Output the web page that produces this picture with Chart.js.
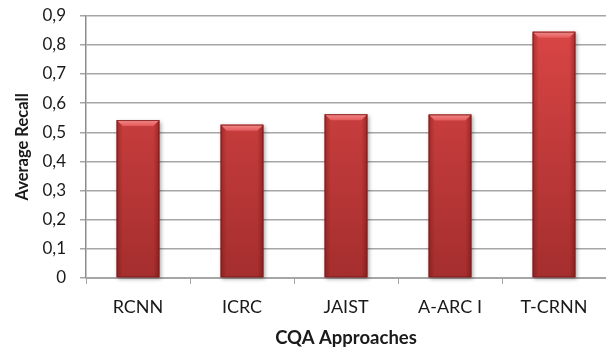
<!DOCTYPE html>
<html>
<head>
<meta charset="utf-8">
<style>
  html, body { margin: 0; padding: 0; background: #ffffff; }
  #wrap { width: 606px; height: 349px; position: relative; }
</style>
<script src="https://cdn.jsdelivr.net/npm/chart.js@4/dist/chart.umd.min.js"></script>
</head>
<body>
<div id="wrap"><canvas id="chart" width="606" height="349"></canvas></div>
<script>
// Average recall per CQA approach
const categories = ['RCNN', 'ICRC', 'JAIST', 'A-ARC I', 'T-CRNN'];
const recall = [0.542, 0.526, 0.562, 0.561, 0.845];
const yTicks = [0, 0.1, 0.2, 0.3, 0.4, 0.5, 0.6, 0.7, 0.8, 0.9];

const FONT = 'Lato, "Open Sans", sans-serif';

// Vertical red gradient for the bar bodies
function barFill(ctx) {
  const area = ctx.chart.chartArea;
  if (!area) return '#c83a3a';
  const g = ctx.chart.ctx.createLinearGradient(0, area.top, 0, area.bottom);
  g.addColorStop(0, '#dc4646');
  g.addColorStop(1, '#a52e2e');
  return g;
}

// Drop shadow under each bar, then a bevelled rim over it
const bevelPlugin = {
  id: 'bevel',
  beforeDatasetsDraw(chart) {
    const ctx = chart.ctx;
    chart.getDatasetMeta(0).data.forEach(bar => {
      const p = bar.getProps(['x', 'y', 'base', 'width'], true);
      const l = p.x - p.width / 2;
      ctx.save();
      ctx.shadowColor = 'rgba(0,0,0,0.35)';
      ctx.shadowBlur = 4;
      ctx.shadowOffsetX = 1.5;
      ctx.shadowOffsetY = 1.5;
      ctx.fillStyle = '#b03434';
      ctx.fillRect(l, p.y, p.width, p.base - p.y);
      ctx.restore();
    });
  },
  afterDatasetsDraw(chart) {
    const ctx = chart.ctx;
    const b = 6;
    chart.getDatasetMeta(0).data.forEach(bar => {
      const p = bar.getProps(['x', 'y', 'base', 'width'], true);
      const l = p.x - p.width / 2, r = p.x + p.width / 2;
      const t = p.y, bt = p.base;
      ctx.save();
      // darker side shading
      const hg = ctx.createLinearGradient(l, 0, r, 0);
      hg.addColorStop(0, 'rgba(90,10,10,0.35)');
      hg.addColorStop(0.14, 'rgba(90,10,10,0.0)');
      hg.addColorStop(0.86, 'rgba(90,10,10,0.0)');
      hg.addColorStop(1, 'rgba(90,10,10,0.4)');
      ctx.fillStyle = hg;
      ctx.fillRect(l, t, r - l, bt - t);
      // light top bevel
      const tg = ctx.createLinearGradient(0, t, 0, t + b);
      tg.addColorStop(0, '#f48a8a');
      tg.addColorStop(1, '#e45a5a');
      ctx.fillStyle = tg;
      ctx.beginPath();
      ctx.moveTo(l, t);
      ctx.lineTo(r, t);
      ctx.lineTo(r - b, t + b);
      ctx.lineTo(l + b, t + b);
      ctx.closePath();
      ctx.fill();
      // rim
      ctx.strokeStyle = 'rgba(125,30,30,0.85)';
      ctx.lineWidth = 1;
      ctx.strokeRect(l + 0.5, t + 0.5, r - l - 1, bt - t - 1);
      ctx.restore();
    });
  }
};

new Chart(document.getElementById('chart'), {
  type: 'bar',
  data: {
    labels: categories,
    datasets: [{
      data: recall,
      backgroundColor: barFill,
      borderWidth: 0,
      categoryPercentage: 0.82,
      barPercentage: 0.5
    }]
  },
  options: {
    responsive: false,
    animation: false,
    events: [],
    layout: { padding: { left: 0, right: 0, top: 0, bottom: 0 } },
    plugins: { legend: { display: false }, tooltip: { enabled: false } },
    scales: {
      x: {
        offset: true,
        grid: {
          offset: true,
          drawOnChartArea: false,
          drawTicks: true,
          tickLength: 6,
          color: '#a6a6a6'
        },
        border: { color: '#a6a6a6', width: 1 },
        ticks: {
          color: '#1a1a1a',
          font: { family: FONT, size: 18 },
          padding: 12
        },
        title: {
          display: true,
          text: 'CQA Approaches',
          color: '#1a1a1a',
          font: { family: FONT, size: 18.5, weight: 'bold' },
          padding: { top: 4, bottom: 0 }
        },
        afterFit(scale) { scale.height = 71; }
      },
      y: {
        min: 0,
        max: 0.9,
        afterBuildTicks(scale) { scale.ticks = yTicks.map(v => ({ value: v })); },
        grid: {
          color: '#a6a6a6',
          lineWidth: 1.5,
          drawTicks: true,
          tickLength: 6
        },
        border: { color: '#8c8c8c', width: 1.5 },
        ticks: {
          color: '#1a1a1a',
          // single-line labels: a small line height keeps the plot top snug
          font: { family: FONT, size: 17, lineHeight: 0.2 },
          padding: 14,
          callback: v => v === 0 ? '0' : v.toFixed(1).replace('.', ',')
        },
        title: {
          display: true,
          text: 'Average Recall',
          color: '#1a1a1a',
          font: { family: FONT, size: 16.5, weight: 'bold' },
          padding: { top: 13, bottom: 4 }
        },
        afterFit(scale) { scale.width = 86; }
      }
    }
  },
  plugins: [bevelPlugin]
});
</script>
</body>
</html>
